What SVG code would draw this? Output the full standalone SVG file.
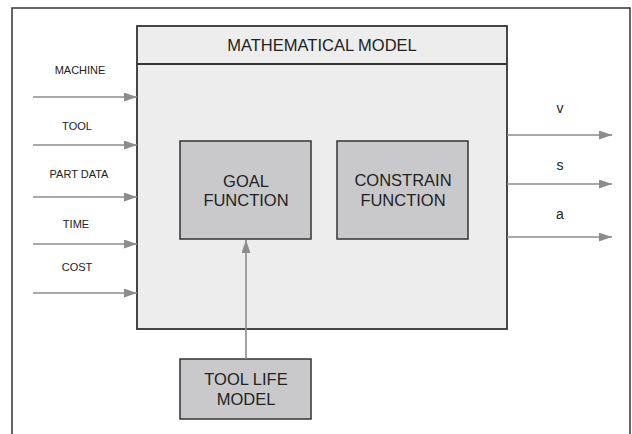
<svg xmlns="http://www.w3.org/2000/svg" width="632" height="434" viewBox="0 0 632 434">
<style>
text{font-family:"Liberation Sans",Arial,sans-serif;fill:#222;text-anchor:middle;dominant-baseline:central}
.lbl{font-size:11px}
.big{font-size:16.5px}
.out{font-size:14px}
.box{fill:#c9c9cb;stroke:#333;stroke-width:1.5}
.con{stroke:#8c8c8c;stroke-width:1.6;fill:none;marker-end:url(#ah)}
</style>
<defs>
<marker id="ah" markerUnits="userSpaceOnUse" markerWidth="13" markerHeight="9" refX="13" refY="4.5" orient="auto">
<path d="M0,0 L13,4.5 L0,9 Z" fill="#8c8c8c"/>
</marker>
</defs>
<rect width="632" height="434" fill="#fff"/>
<path d="M12,434 V8 H630 V434" fill="none" stroke="#333" stroke-width="1.5"/>
<g id="math-model">
<rect x="137" y="26" width="370" height="303" fill="#ededed" stroke="#333" stroke-width="1.8"/>
<line x1="137" y1="64" x2="507" y2="64" stroke="#333" stroke-width="1.8"/>
<text class="big" x="322" y="45">MATHEMATICAL MODEL</text>
</g>
<g id="goal">
<rect class="box" x="180" y="141" width="131" height="98"/>
<text class="big" x="246" y="181">GOAL</text>
<text class="big" x="246" y="200">FUNCTION</text>
</g>
<g id="constrain">
<rect class="box" x="337" y="141" width="131" height="98"/>
<text class="big" x="403" y="180">CONSTRAIN</text>
<text class="big" x="403" y="200">FUNCTION</text>
</g>
<g id="toollife">
<rect class="box" x="180" y="359" width="131" height="60"/>
<text class="big" x="246" y="379">TOOL LIFE</text>
<text class="big" x="246" y="399">MODEL</text>
</g>
<g id="labels">
<text class="lbl" x="80" y="70">MACHINE</text>
<text class="lbl" x="77" y="126">TOOL</text>
<text class="lbl" x="79" y="174">PART DATA</text>
<text class="lbl" x="76" y="224">TIME</text>
<text class="lbl" x="77" y="267">COST</text>
<text class="out" x="560" y="108">v</text>
<text class="out" x="560" y="165">s</text>
<text class="out" x="560" y="214">a</text>
</g>
<g id="connectors">
<line class="con" x1="33" y1="97" x2="137" y2="97"/>
<line class="con" x1="33" y1="145" x2="137" y2="145"/>
<line class="con" x1="33" y1="197" x2="137" y2="197"/>
<line class="con" x1="33" y1="244" x2="137" y2="244"/>
<line class="con" x1="33" y1="293" x2="137" y2="293"/>
<line class="con" x1="507" y1="135" x2="612" y2="135"/>
<line class="con" x1="507" y1="184" x2="612" y2="184"/>
<line class="con" x1="507" y1="237" x2="612" y2="237"/>
<line class="con" x1="246" y1="359" x2="246" y2="240"/>
</g>
</svg>
